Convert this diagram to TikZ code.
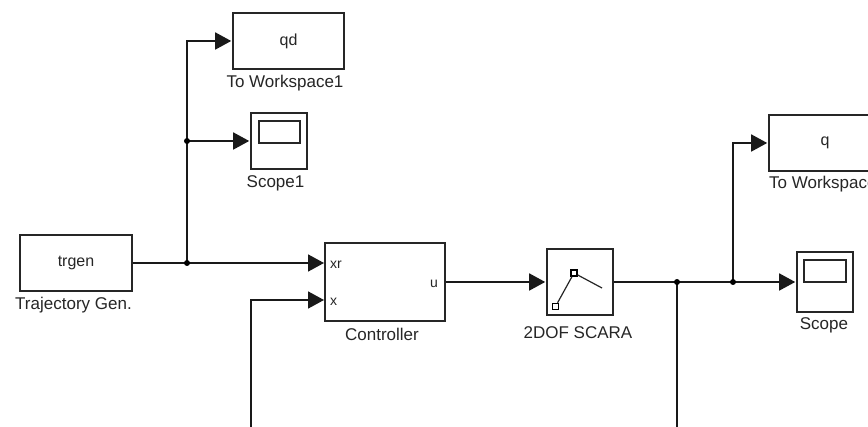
\documentclass[tikz,border=0pt]{standalone}
\usepackage{fontspec}
\setmainfont{Liberation Sans}
\usetikzlibrary{arrows.meta}
\tikzset{
  x=1pt,y=-1pt,
  block/.style={draw=black!85,rectangle,inner sep=0pt,line width=1.6pt,text=black!85},
  inblock/.style={font=\fontsize{16}{18}\selectfont},
  cap text/.style={inner sep=0pt,font=\fontsize{17}{19}\selectfont,text=black!85},
  port/.style={inner sep=0pt,font=\fontsize{14}{15}\selectfont,text=black!85},
  wire/.style={draw=black!90,line width=1.6pt,-{Triangle[length=16pt,width=17pt]},shorten >=1pt},
  plain wire/.style={draw=black!90,line width=1.6pt},
  junction/.style={circle,fill=black,inner sep=0pt,minimum size=6pt},
  inner scope/.style={draw=black!85,rectangle,inner sep=0pt,line width=1.6pt},
  link/.style={draw=black!85,line width=1.2pt},
  hinge/.style={draw=black,rectangle,inner sep=0pt,minimum size=6pt,line width=1.5pt,fill=white}
}
\begin{document}
\begin{tikzpicture}
\useasboundingbox (0,0) rectangle (868,427);
\clip (0,0) rectangle (868,427);
\fill[white] (0,0) rectangle (868,427);
% blocks
\node[block,inblock,minimum width=112pt,minimum height=56pt] (trgen) at (76,263) {trgen};
\node[block,inblock,minimum width=111pt,minimum height=56pt] (tw1) at (288.5,41) {qd};
\node[block,minimum width=56pt,minimum height=56pt] (scope1) at (279,141) {};
\node[block,minimum width=120pt,minimum height=78pt] (ctrl) at (385,282) {};
\node[block,minimum width=66pt,minimum height=66pt] (scara) at (580,282) {};
\node[block,inblock,minimum width=112pt,minimum height=56pt] (tw) at (825,143) {q};
\node[block,minimum width=56pt,minimum height=60pt] (scope) at (825,282) {};
% scope screens
\node[inner scope,minimum width=41pt,minimum height=22pt] (screen1) at (279.5,132) {};
\node[inner scope,minimum width=42pt,minimum height=22pt] (screen) at (825,271) {};
% captions
\node[cap text] (cap1) at (285,83) {To Workspace1};
\node[cap text] (cap2) at (275.5,183) {Scope1};
\node[cap text] (cap3) at (73.5,305) {Trajectory Gen.};
\node[cap text] (cap4) at (382,334) {Controller};
\node[cap text] (cap5) at (578,333) {2DOF SCARA};
\node[cap text,anchor=west] (cap6) at (769,184) {To Workspace};
\node[cap text] (cap7) at (824,325) {Scope};
% ports
\node[port,anchor=west] (pxr) at (330,265) {xr};
\node[port,anchor=west] (px) at (330,302) {x};
\node[port,anchor=east] (pu) at (438,284) {u};
% scara drawing
\node[hinge] (h1) at (555.5,306.5) {};
\node[hinge] (h2) at (574,273) {};
\coordinate (tip) at (602,288);
\draw[link] (h1) -- (h2);
\draw[link] (h2) -- (tip);
% junctions
\coordinate (j1) at (187,263);
\coordinate (j2) at (187,141);
\coordinate (j3) at (677,282);
\coordinate (j4) at (733,282);
\coordinate (in1) at (325,263);
\coordinate (in2) at (325,300);
\coordinate (fb2) at (251,427);
\coordinate (fb3) at (677,427);
% wires
\draw[wire] (trgen.east) -- (in1);
\draw[plain wire] (j1) -- (j2);
\draw[wire] (j2) |- (tw1.west);
\draw[wire] (j2) -- (scope1.west);
\draw[wire] (fb2) |- (in2);
\draw[wire] (ctrl.east) -- (scara.west);
\draw[wire] (scara.east) -- (scope.west);
\draw[wire] (j4) |- (tw.west);
\draw[plain wire] (j3) -- (fb3);
\node[junction] (d1) at (j1) {};
\node[junction] (d2) at (j2) {};
\node[junction] (d3) at (j3) {};
\node[junction] (d4) at (j4) {};
\end{tikzpicture}
\end{document}
